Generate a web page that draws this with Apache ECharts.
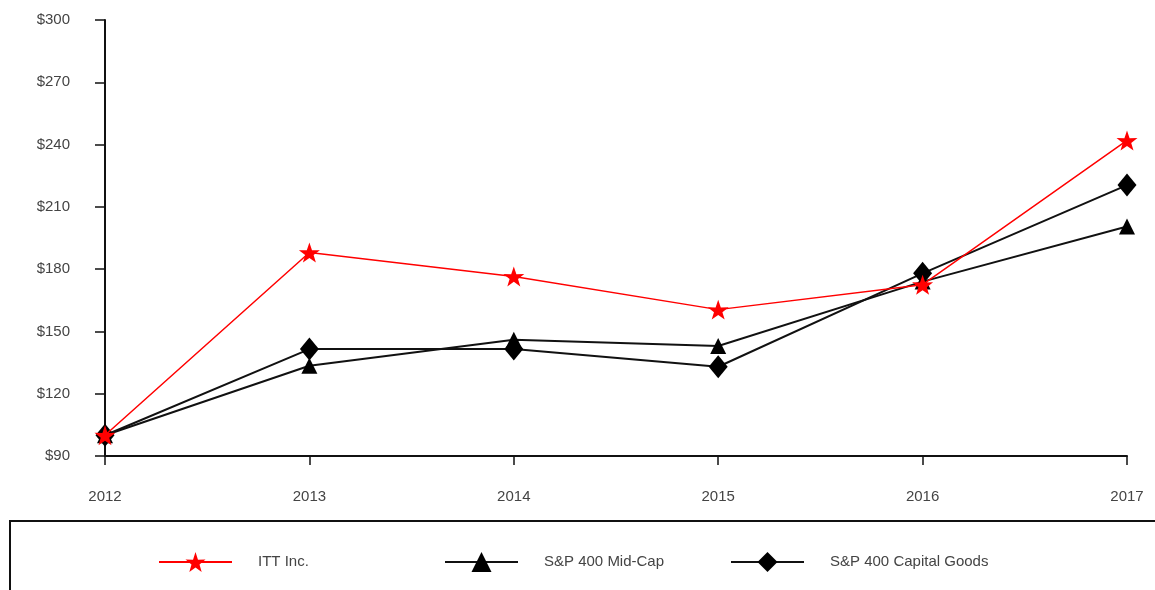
<!DOCTYPE html>
<html>
<head>
<meta charset="utf-8">
<script src="https://cdn.jsdelivr.net/npm/echarts@6/dist/echarts.min.js"></script>
<style>
html,body{margin:0;padding:0;background:#fff;}
#chart{width:1155px;height:590px;}
</style>
</head>
<body>
<div id="chart"></div>
<script>
var years = ['2012','2013','2014','2015','2016','2017'];
var ittInc = [100, 188, 176.5, 160.5, 172.5, 242];
var midCap = [100, 133.5, 146, 143, 174, 200.5];
var capitalGoods = [100, 141.5, 141.5, 133, 178, 220.5];
var yTicks = {min: 90, max: 300, interval: 30};

var starPath = 'path://M50,0 L61.8,35.1 L97.6,34.5 L69.1,56.7 L79.4,90.5 L50,70 L20.6,90.5 L30.9,56.7 L2.4,34.5 L38.2,35.1 Z';
var font = 'Liberation Sans, Arial, sans-serif';

function legendItem(name, left) {
  return {
    data: [name], left: left, top: 552, padding: 0,
    itemWidth: 73, itemHeight: 25, itemGap: 0,
    textStyle: {fontFamily: font, fontSize: 15, color: '#444', padding: [0, 0, 0, 21]}
  };
}

var chart = echarts.init(document.getElementById('chart'));
chart.setOption({
  animation: false,
  backgroundColor: '#fff',
  grid: {left: 105, right: 28, top: 20, bottom: 134, containLabel: false},
  xAxis: {
    type: 'category',
    data: years,
    boundaryGap: false,
    axisLine: {lineStyle: {color: '#111', width: 2}},
    axisTick: {alignWithLabel: true, length: 9, lineStyle: {color: '#111', width: 1.5}},
    axisLabel: {color: '#444', fontFamily: font, fontSize: 15, margin: 33},
    splitLine: {show: false}
  },
  yAxis: {
    type: 'value',
    min: yTicks.min, max: yTicks.max, interval: yTicks.interval,
    axisLine: {show: true, lineStyle: {color: '#111', width: 2}},
    axisTick: {show: true, length: 10, lineStyle: {color: '#111', width: 1.5}},
    axisLabel: {color: '#444', fontFamily: font, fontSize: 15, margin: 35,
      formatter: function(v){ return '$' + v; }},
    splitLine: {show: false}
  },
  graphic: [{
    type: 'rect',
    shape: {x: 10, y: 521, width: 1300, height: 200},
    style: {fill: 'none', stroke: '#111', lineWidth: 2},
    z: -1
  }],
  legend: [
    legendItem('ITT Inc.', 158),
    legendItem('S&P 400 Mid-Cap', 444),
    legendItem('S&P 400 Capital Goods', 730)
  ],
  series: [
    {
      name: 'S&P 400 Mid-Cap', type: 'line', data: midCap,
      symbol: 'triangle', symbolSize: 16,
      lineStyle: {color: '#111', width: 2}, itemStyle: {color: '#000'}, z: 2
    },
    {
      name: 'S&P 400 Capital Goods', type: 'line', data: capitalGoods,
      symbol: 'diamond', symbolSize: [19, 23],
      lineStyle: {color: '#111', width: 2}, itemStyle: {color: '#000'}, z: 3
    },
    {
      name: 'ITT Inc.', type: 'line', data: ittInc,
      symbol: starPath, symbolSize: 21, symbolKeepAspect: true,
      lineStyle: {color: '#ff0000', width: 1.5}, itemStyle: {color: '#ff0000'}, z: 4
    }
  ]
});
</script>
</body>
</html>
